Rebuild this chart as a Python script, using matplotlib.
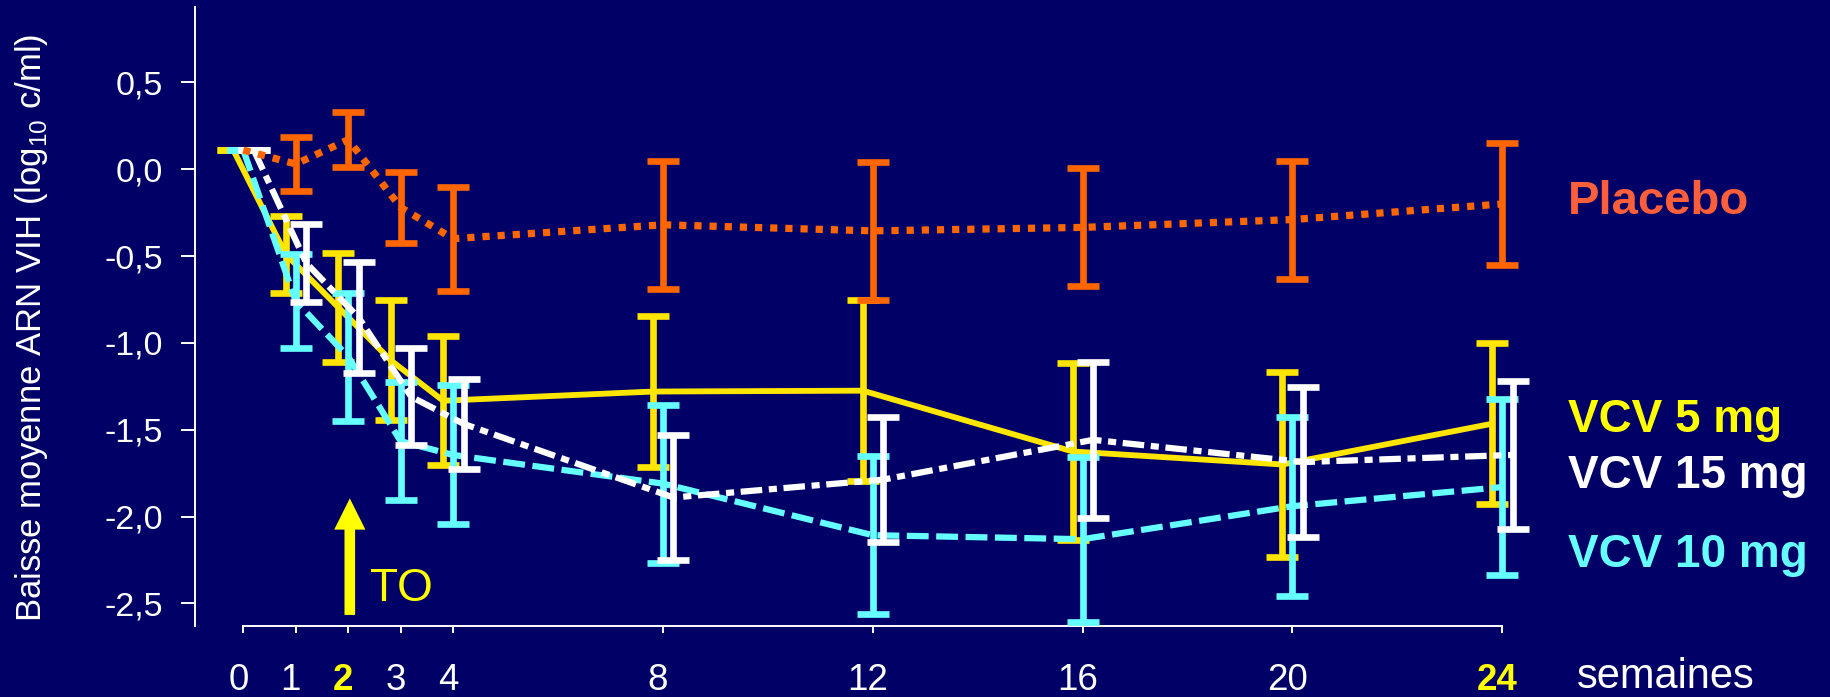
import matplotlib
matplotlib.use("Agg")
import matplotlib.pyplot as plt
from matplotlib.transforms import ScaledTranslation

plt.rcParams['font.family'] = ['Liberation Sans', 'DejaVu Sans']

# --- data -------------------------------------------------------------
weeks = [0, 1, 2, 3, 4, 8, 12, 16, 20, 24]
week_labels = ['0', '1', '2', '3', '4', '8', '12', '16', '20', '24']
highlight_labels = ['2', '24']

y_ticks = [0.5, 0.0, -0.5, -1.0, -1.5, -2.0, -2.5]
y_tick_labels = ['0,5', '0,0', '-0,5', '-1,0', '-1,5', '-2,0', '-2,5']

placebo_mean = [0.11, 0.03, 0.17, -0.22, -0.40, -0.32, -0.355, -0.335, -0.29, -0.20]
placebo_err = [0.0, 0.155, 0.16, 0.205, 0.30, 0.37, 0.397, 0.34, 0.34, 0.35]

vcv5_mean = [0.11, -0.49, -0.795, -1.10, -1.333, -1.28, -1.275, -1.625, -1.70, -1.465]
vcv5_err = [0.0, 0.22, 0.315, 0.345, 0.37, 0.437, 0.52, 0.51, 0.53, 0.465]

vcv10_mean = [0.11, -0.76, -1.08, -1.566, -1.645, -1.81, -2.107, -2.13, -1.94, -1.83]
vcv10_err = [0.0, 0.27, 0.37, 0.34, 0.40, 0.455, 0.455, 0.475, 0.515, 0.505]

vcv15_mean = [0.11, -0.54, -0.855, -1.31, -1.466, -1.89, -1.787, -1.558, -1.686, -1.645]
vcv15_err = [0.0, 0.226, 0.318, 0.28, 0.26, 0.358, 0.358, 0.45, 0.433, 0.427]

# --- figure -----------------------------------------------------------
W, H = 1831, 697
BG = '#000066'
ORANGE = '#FF6600'
YELLOW_LINE = '#FFE600'
YELLOW = '#FFFF00'
CYAN = '#66FFFF'
WHITE = '#FFFFFF'


def fx(px):
    return px / W


def fy(py):
    return 1 - py / H


fig = plt.figure(figsize=(W / 100, H / 100), dpi=100, facecolor=BG)
ax = fig.add_axes([fx(195), fy(625.7), (1560 - 195) / W, (625.7 - 6.7) / H])
ax.set_facecolor(BG)
ax.set_xlim(-0.921, 25.1)
ax.set_ylim(-2.628, 0.9355)


def draw_series(offset, mean, err, color, z, first_bar=0, **line_kw):
    xs = [w + offset for w in weeks]
    ax.errorbar(xs[first_bar:], mean[first_bar:], yerr=err[first_bar:],
                fmt='none', ecolor=color, elinewidth=4.8, capsize=11.7,
                capthick=4.8, zorder=z)
    ax.plot(xs, mean, color=color, zorder=z + 0.5, **line_kw)


draw_series(-0.19, vcv5_mean, vcv5_err, YELLOW_LINE, 3,
            linewidth=4.2, linestyle='-', solid_capstyle='butt')
draw_series(0.0, vcv10_mean, vcv10_err, CYAN, 4,
            linewidth=4.5, linestyle=(0, (3.5, 1.2)))
draw_series(0.2, vcv15_mean, vcv15_err, WHITE, 5,
            linewidth=4.5, linestyle=(0, (3.45, 1.06, 1.3, 1.06)))
draw_series(0.0, placebo_mean, placebo_err, ORANGE, 6, first_bar=1,
            linewidth=5.2, linestyle=(0, (1.0, 1.1)))

# --- axes styling -----------------------------------------------------
for side in ('top', 'right'):
    ax.spines[side].set_visible(False)
for side in ('left', 'bottom'):
    ax.spines[side].set_color('white')
    ax.spines[side].set_linewidth(1.4)
ax.spines['bottom'].set_bounds(weeks[0], weeks[-1])

ax.set_yticks(y_ticks, y_tick_labels)
ax.tick_params(axis='y', length=10, width=1.4, colors='white',
               labelsize=24.5, pad=12.7)
ax.set_xticks(weeks, week_labels)
ax.tick_params(axis='x', length=4.7, width=1.4, colors='white',
               labelsize=26.5, pad=22)
shift = ScaledTranslation(-5 / 100, 0, fig.dpi_scale_trans)
for lab in ax.get_xticklabels():
    lab.set_transform(lab.get_transform() + shift)
    if lab.get_text() in highlight_labels:
        lab.set_color(YELLOW)
        lab.set_fontweight('bold')

fig.text(fx(31.5), fy(327.8), 'Baisse moyenne ARN VIH (log$_{\\mathregular{10}}$ c/ml)',
         rotation=90, ha='center', va='center', fontsize=25, color='white')
fig.text(fx(1665.5), fy(688), 'semaines', ha='center', va='baseline',
         fontsize=30, color='white')

# series names at the right
fig.text(fx(1568), fy(214), 'Placebo', ha='left', va='baseline',
         fontsize=34, fontweight='bold', color='#FF5E3A')
fig.text(fx(1568), fy(431.7), 'VCV 5 mg', ha='left', va='baseline',
         fontsize=33, fontweight='bold', color=YELLOW)
fig.text(fx(1568), fy(488.3), 'VCV 15 mg', ha='left', va='baseline',
         fontsize=33, fontweight='bold', color=WHITE)
fig.text(fx(1568), fy(566.7), 'VCV 10 mg', ha='left', va='baseline',
         fontsize=33, fontweight='bold', color=CYAN)

# switch marker at week 2
ax.annotate('', xy=(2.03, -1.895), xytext=(2.03, -2.566),
            arrowprops=dict(arrowstyle='simple,head_length=0.5,head_width=0.5,tail_width=0.17',
                            mutation_scale=45, color=YELLOW, shrinkA=0, shrinkB=0, lw=0))
fig.text(fx(370), fy(601), 'TO', ha='left', va='baseline', fontsize=33, color=YELLOW)

fig.savefig('out.png', dpi=100, facecolor=BG)
